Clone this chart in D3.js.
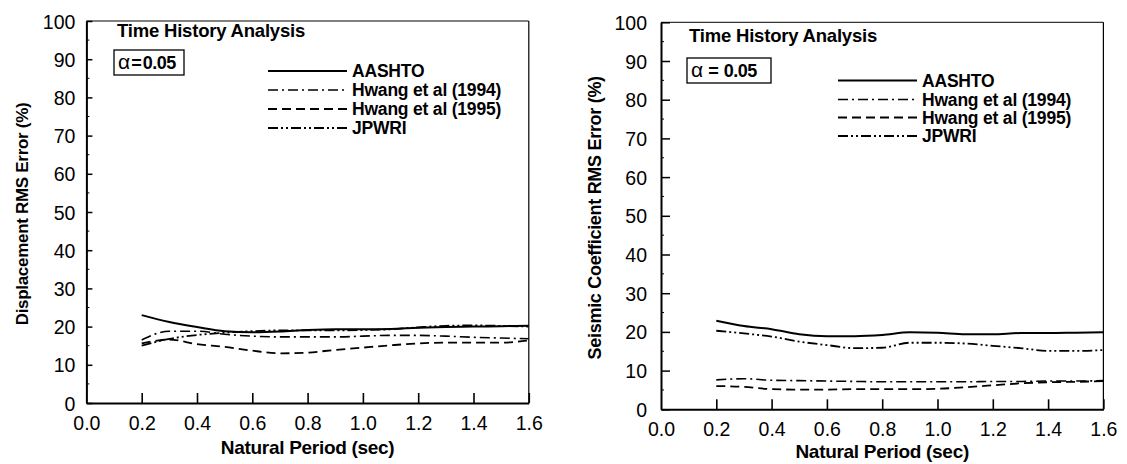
<!DOCTYPE html>
<html>
<head>
<meta charset="utf-8">
<script src="https://cdn.jsdelivr.net/npm/d3@7"></script>
<style>
  body { margin: 0; background: #fff; }
  text { font-family: "Liberation Sans", Arial, sans-serif; fill: #000; }
  .tick-label { font-size: 19.5px; }
  .axis-title { font-weight: bold; letter-spacing: -0.3px; }
  .legend-text { font-size: 17.5px; font-weight: bold; letter-spacing: -0.2px; }
</style>
</head>
<body>
<div id="chart"></div>
<script>
// natural period (sec)
var periods = [0.2, 0.3, 0.4, 0.5, 0.6, 0.7, 0.8, 0.9, 1.0, 1.1, 1.2, 1.3, 1.4, 1.5, 1.6];

// displacement RMS error (%)
var dispAashto  = [23.0, 21.2, 19.9, 18.8, 18.5, 18.7, 19.1, 19.3, 19.3, 19.4, 19.7, 19.9, 20.0, 20.1, 20.2];
var dispHwang94 = [16.5, 18.8, 18.8, 18.0, 17.5, 17.3, 17.3, 17.3, 17.5, 17.7, 17.7, 17.5, 17.2, 17.0, 16.8];
var dispHwang95 = [15.6, 16.6, 15.4, 14.7, 13.7, 13.0, 13.2, 13.9, 14.5, 15.1, 15.6, 15.8, 15.8, 15.8, 16.4];
var dispJpwri   = [15.0, 16.8, 17.8, 18.4, 18.8, 19.0, 19.0, 19.0, 19.1, 19.3, 19.8, 20.2, 20.3, 20.2, 20.0];

// seismic coefficient RMS error (%)
var seisAashto  = [22.9, 21.5, 20.7, 19.4, 18.9, 18.9, 19.2, 19.9, 19.8, 19.4, 19.4, 19.7, 19.7, 19.8, 19.9];
var seisHwang94 = [7.6, 7.9, 7.5, 7.4, 7.3, 7.2, 7.1, 7.1, 7.1, 7.1, 7.2, 7.2, 7.3, 7.3, 7.4];
var seisHwang95 = [6.0, 5.8, 5.2, 5.1, 5.1, 5.2, 5.2, 5.2, 5.3, 5.7, 6.2, 6.7, 7.0, 7.1, 7.3];
var seisJpwri   = [20.3, 19.6, 18.8, 17.5, 16.6, 15.8, 15.9, 17.2, 17.2, 17.0, 16.4, 15.8, 15.1, 15.1, 15.3];

var seriesNames = ["AASHTO", "Hwang et al (1994)", "Hwang et al (1995)", "JPWRI"];
var xTicks = [0.0, 0.2, 0.4, 0.6, 0.8, 1.0, 1.2, 1.4, 1.6];
var yTicks = [0, 10, 20, 30, 40, 50, 60, 70, 80, 90, 100];

// line styles for the four series
var dashes = [null, "10,4,2,4", "9,5", "10,3,2,3,2,3"];
var widths = [2, 1.6, 1.8, 1.8];

var svg = d3.select("#chart").append("svg")
    .attr("width", 1127)
    .attr("height", 464);

function drawPanel(p) {
  var x = d3.scaleLinear().domain([0, 1.6]).range([p.left, p.right]);
  var y = d3.scaleLinear().domain([0, 100]).range([p.bottom, p.top]);
  var g = svg.append("g");

  // frame (top and right, thin)
  g.append("line").attr("x1", x(0)).attr("x2", x(1.6)).attr("y1", y(100)).attr("y2", y(100))
    .attr("stroke", "#000").attr("stroke-width", 1);
  g.append("line").attr("x1", x(1.6)).attr("x2", x(1.6)).attr("y1", y(100)).attr("y2", y(0))
    .attr("stroke", "#000").attr("stroke-width", 1.2);

  // y axis, ticks pointing inside
  var yAxis = d3.axisLeft(y).tickValues(yTicks).tickSizeInner(-p.yTick).tickSizeOuter(0)
    .tickPadding(p.yPad).tickFormat(d3.format("d"));
  var ya = g.append("g").attr("transform", "translate(" + x(0) + ",0)").call(yAxis);
  ya.select(".domain").attr("stroke-width", 2);
  ya.selectAll(".tick line").attr("stroke-width", 1.5);
  ya.selectAll(".tick text").attr("class", "tick-label").attr("dy", "0.36em");

  // minor y ticks
  g.selectAll(".minor").data(d3.range(5, 100, 10)).enter().append("line")
    .attr("x1", x(0)).attr("x2", x(0) + 3)
    .attr("y1", function(d) { return y(d); }).attr("y2", function(d) { return y(d); })
    .attr("stroke", "#000").attr("stroke-width", 1);

  // x axis, ticks pointing up inside
  var xAxis = d3.axisBottom(x).tickValues(xTicks).tickSizeInner(-10).tickSizeOuter(0)
    .tickPadding(13).tickFormat(d3.format(".1f"));
  var xa = g.append("g").attr("transform", "translate(0," + y(0) + ")").call(xAxis);
  xa.select(".domain").attr("stroke-width", 2);
  xa.selectAll(".tick line").attr("stroke-width", 1.6)
    .attr("display", function(d) { return d === 0 ? "none" : null; });
  xa.selectAll(".tick text").attr("class", "tick-label");

  // axis titles
  g.append("text").attr("class", "axis-title").style("font-size", "19px")
    .attr("x", x(0.8)).attr("y", p.xTitleY)
    .attr("text-anchor", "middle").text("Natural Period (sec)");
  g.append("text").attr("class", "axis-title").style("font-size", p.yTitleSize + "px")
    .attr("transform", "translate(" + p.yTitleX + "," + ((y(0) + y(100)) / 2 + 2) + ") rotate(-90)")
    .attr("text-anchor", "middle").text(p.yTitle);

  // series lines
  var line = d3.line()
    .x(function(d, i) { return x(periods[i]); })
    .y(function(d) { return y(d); })
    .curve(d3.curveMonotoneX);
  p.series.forEach(function(s, i) {
    g.append("path").datum(s)
      .attr("d", line)
      .attr("fill", "none")
      .attr("stroke", "#000")
      .attr("stroke-width", widths[i])
      .attr("stroke-dasharray", dashes[i]);
  });

  // annotation
  g.append("text").attr("class", "legend-text").style("font-size", "18.5px")
    .attr("x", p.titleX).attr("y", p.titleY).text("Time History Analysis");
  g.append("rect").attr("x", p.boxX).attr("y", p.boxY).attr("width", p.boxW).attr("height", 25)
    .attr("fill", "none").attr("stroke", "#000").attr("stroke-width", 1.3);
  var at = g.append("text").attr("x", p.boxX + 4).attr("y", p.boxY + 19);
  at.append("tspan").attr("font-size", 21).text("α");
  at.append("tspan").attr("font-size", 18).attr("font-weight", "bold")
    .attr("dx", p.alphaGap).text("=");
  at.append("tspan").attr("font-size", 18).attr("font-weight", "bold")
    .attr("dx", p.alphaGap).attr("letter-spacing", "-0.5px").text("0.05");

  // legend
  seriesNames.forEach(function(name, i) {
    var ly = p.legendY[i];
    g.append("line").attr("x1", p.legendX).attr("x2", p.legendX + 79)
      .attr("y1", ly).attr("y2", ly)
      .attr("stroke", "#000").attr("stroke-width", widths[i])
      .attr("stroke-dasharray", dashes[i]);
    g.append("text").attr("class", "legend-text")
      .attr("x", p.legendX + 84).attr("y", ly + 6).text(name);
  });
}

drawPanel({
  left: 86.4, right: 528.8, top: 21, bottom: 403, yTick: 6, yPad: 11,
  xTitleY: 454, yTitleX: 28, yTitleSize: 17, yTitle: "Displacement RMS Error (%)",
  titleX: 117, titleY: 37, boxX: 114, boxY: 50, boxW: 70, alphaGap: 1,
  legendX: 268, legendY: [71, 90, 109, 128],
  series: [dispAashto, dispHwang94, dispHwang95, dispJpwri]
});

drawPanel({
  left: 661, right: 1103.4, top: 22.3, bottom: 409.3, yTick: 9, yPad: 14,
  xTitleY: 458, yTitleX: 601, yTitleSize: 18, yTitle: "Seismic Coefficient RMS Error (%)",
  titleX: 689, titleY: 42, boxX: 687, boxY: 58, boxW: 84, alphaGap: 5,
  legendX: 838, legendY: [80.5, 99.5, 117.5, 136],
  series: [seisAashto, seisHwang94, seisHwang95, seisJpwri]
});
</script>
</body>
</html>
